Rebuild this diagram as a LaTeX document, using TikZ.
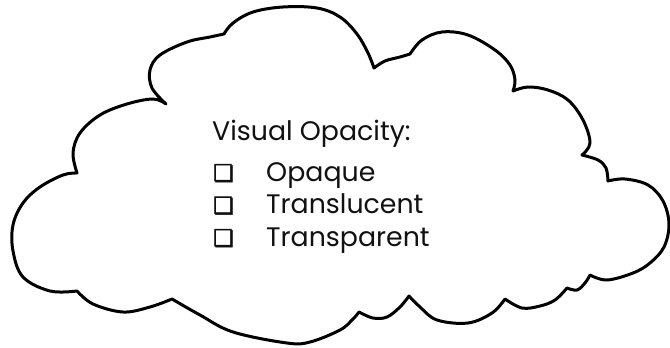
\documentclass[tikz,border=0pt]{standalone}
\usepackage{fontspec}
\setmainfont{Poppins}
\newfontfamily\symfont[FakeBold=2.5]{DejaVu Sans}
\definecolor{inkc}{HTML}{111111}
\tikzset{
  cloudline/.style={draw=black, line width=3pt, line join=round, fill=white},
  lbl/.style={anchor=base west, inner sep=0pt, text=inkc, font=\fontsize{26.8}{30}\selectfont},
  boxmark/.style={anchor=base west, inner sep=0pt, text=inkc, font=\symfont\fontsize{23}{28}\selectfont},
  seg/.style={smooth, tension=0.6}
}
\begin{document}
\begin{tikzpicture}[x=1pt,y=-1pt]
\useasboundingbox (0,0) rectangle (670,348);
\fill[white] (0,0) rectangle (670,348);
\draw[cloudline]
  plot[seg] coordinates {(77,173) (73,153) (80,133) (100,115) (127,104) (153,99) (166,104)}
  -- plot[seg] coordinates {(166,104) (152,88) (150,70) (160,55) (187,42) (210,37) (224,34)}
  -- plot[seg] coordinates {(224,34) (233,23) (253,12) (283,7) (317,8) (340,17) (357,34) (368,53) (374,68)}
  -- plot[seg] coordinates {(374,68) (385,61) (400,57) (410,54)}
  -- plot[seg] coordinates {(410,54) (422,40) (442,32) (468,35) (495,50) (510,65) (515,80) (513,91)}
  -- plot[seg] coordinates {(513,91) (528,87) (548,90) (568,100) (583,120) (590,143) (582,155)}
  -- plot[seg] coordinates {(582,155) (598,160) (606,168) (608,181)}
  -- plot[seg] coordinates {(608,181) (625,179) (648,185) (663,201) (669,224) (664,247) (650,263) (633,273) (607,280) (590,275)}
  -- plot[seg] coordinates {(590,275) (585,283) (577,290) (567,288)}
  -- plot[seg] coordinates {(567,288) (555,300) (540,306) (522,308) (505,299)}
  -- plot[seg] coordinates {(505,299) (492,313) (468,323) (437,320) (420,307) (409,296)}
  -- plot[seg] coordinates {(409,296) (400,307) (387,317) (373,318) (359,312)}
  -- plot[seg] coordinates {(359,312) (353,319) (340,330) (310,342) (287,343) (233,332) (200,315) (172,299)}
  -- plot[seg] coordinates {(172,299) (150,307) (123,312) (93,304) (77,291)}
  -- plot[seg] coordinates {(77,291) (50,291) (23,277) (13,251) (13,225) (23,203) (40,187) (63,175) (77,173)}
  -- cycle;
\node[lbl] (title) at (212,140) {Visual Opacity:};
\node[boxmark] (box1) at (213,181) {❏};
\node[boxmark] (box2) at (213,213.5) {❏};
\node[boxmark] (box3) at (213,246) {❏};
\node[lbl] (item1) at (266,181) {Opaque};
\node[lbl] (item2) at (266,213.5) {Translucent};
\node[lbl] (item3) at (266,246) {Transparent};
\end{tikzpicture}
\end{document}
